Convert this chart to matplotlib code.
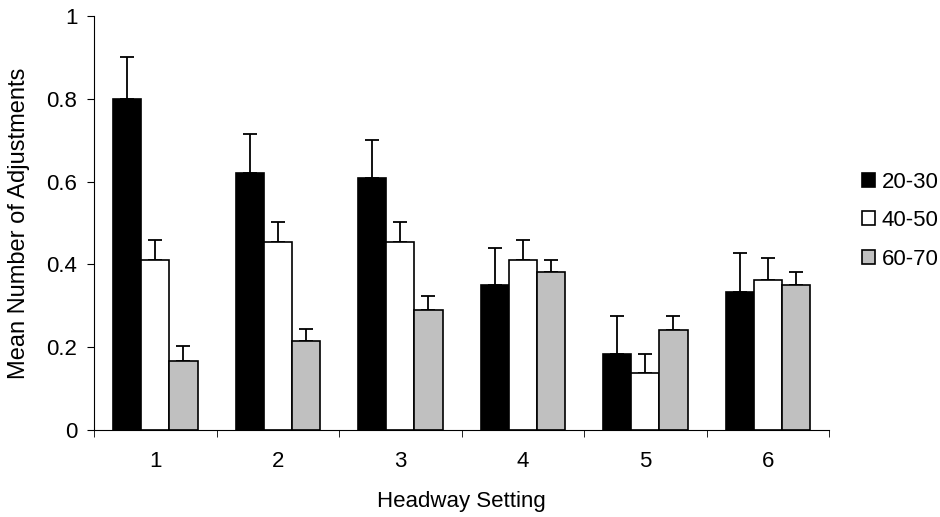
# Grouped bar chart: mean number of adjustments per headway setting, by age group
import numpy as np
import matplotlib.pyplot as plt
from matplotlib.ticker import FormatStrFormatter

plt.rcParams['font.family'] = ['Liberation Sans', 'DejaVu Sans']

settings = ['1', '2', '3', '4', '5', '6']
groups = ['20-30', '40-50', '60-70']

mean_2030 = [0.80, 0.62, 0.61, 0.35, 0.185, 0.333]
err_2030 = [0.10, 0.095, 0.09, 0.09, 0.09, 0.095]
mean_4050 = [0.41, 0.455, 0.454, 0.411, 0.137, 0.362]
err_4050 = [0.05, 0.047, 0.048, 0.048, 0.047, 0.053]
mean_6070 = [0.167, 0.215, 0.289, 0.381, 0.241, 0.35]
err_6070 = [0.036, 0.03, 0.035, 0.03, 0.034, 0.031]

means = [mean_2030, mean_4050, mean_6070]
errs = [err_2030, err_4050, err_6070]
colors = ['black', 'white', '#c0c0c0']

fig = plt.figure(figsize=(9.4, 5.17), dpi=100)
ax = fig.add_axes([0.1, 0.168, 0.782, 0.801])

x = np.arange(1, len(settings) + 1)
w = 0.23
for i in range(3):
    pos = x + (i - 1) * w
    ax.bar(pos, means[i], width=w, color=colors[i], edgecolor='black',
           linewidth=1.2, label=groups[i], zorder=2)
    # only the upper half of the error bar is shown
    ax.errorbar(pos, means[i], yerr=[np.zeros(len(x)), errs[i]], fmt='none',
                ecolor='black', elinewidth=1.3, capsize=5, capthick=1.3, zorder=1)

ax.set_xlim(0.5, 6.5)
ax.set_ylim(0, 1)
ax.set_yticks([0, 0.2, 0.4, 0.6, 0.8, 1.0])
ax.yaxis.set_major_formatter(FormatStrFormatter('%g'))
ax.set_xticks(x)
ax.set_xticklabels(settings)
ax.set_xticks(np.arange(0.5, 7, 1), minor=True)
ax.tick_params(axis='x', which='major', length=0, pad=15, labelsize=16)
ax.tick_params(axis='x', which='minor', length=5, direction='out')
ax.tick_params(axis='y', length=5, direction='out', labelsize=16, pad=7)

for s in ['top', 'right']:
    ax.spines[s].set_visible(False)

ax.set_xlabel('Headway Setting', fontsize=16, labelpad=14)
ax.set_ylabel('Mean Number of Adjustments', fontsize=17, labelpad=12)

fig.legend(loc='center left', bbox_to_anchor=(0.905, 0.573), frameon=False,
           fontsize=16, handlelength=0.6, handleheight=0.6, handletextpad=0.3,
           labelspacing=0.78, borderpad=0)

plt.savefig('out.png')
